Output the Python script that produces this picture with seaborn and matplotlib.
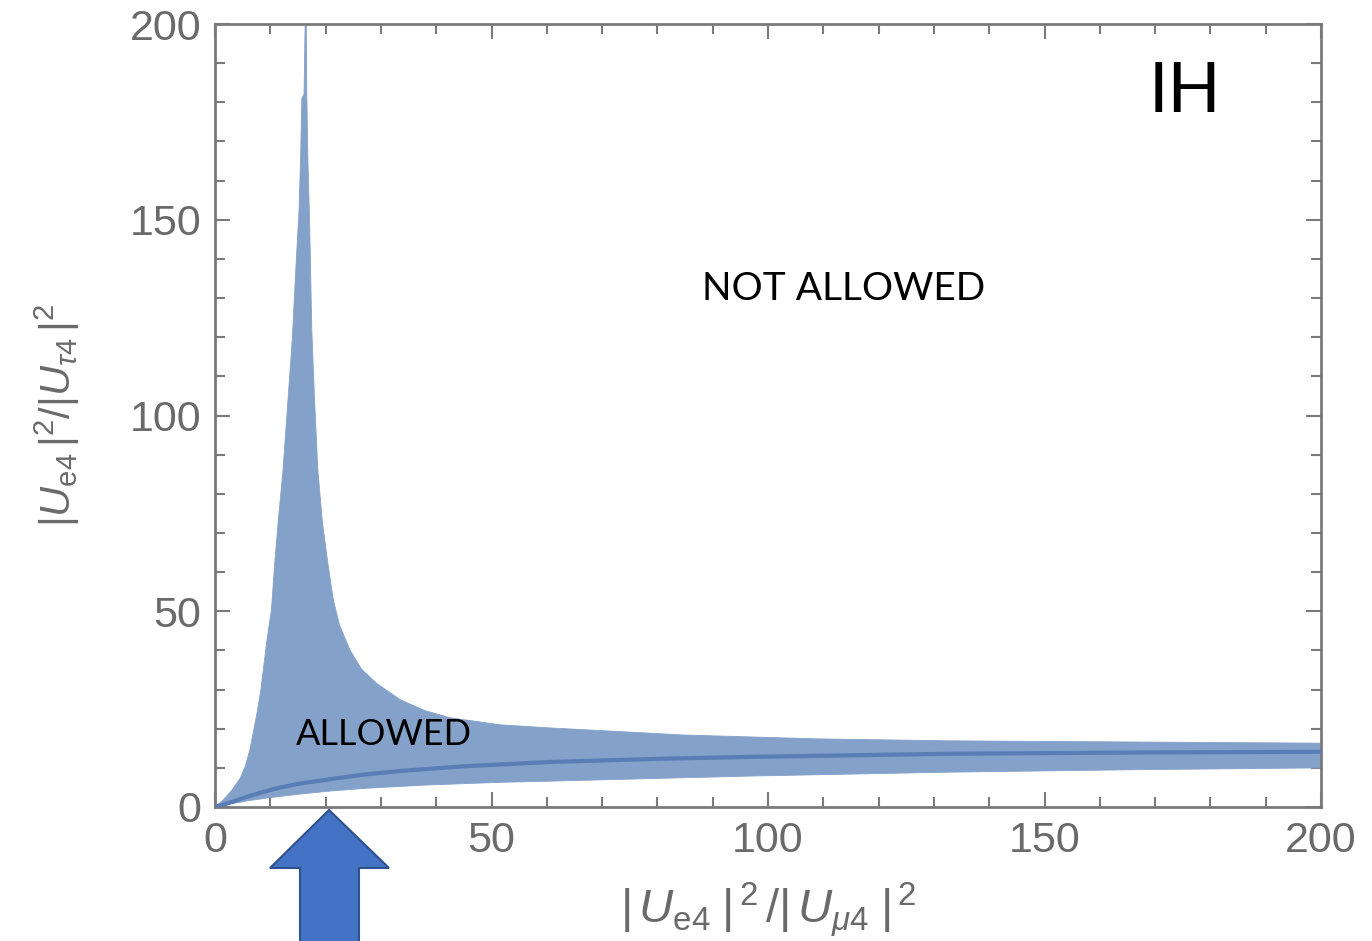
import matplotlib
matplotlib.use("Agg")
import matplotlib.pyplot as plt
from matplotlib.patches import Polygon
from matplotlib.ticker import MultipleLocator
import seaborn as sns
import pandas as pd

# Upper boundary of the allowed region (rising branch, spike, falling tail)
upper_x = [0.0, 1.5, 3.0, 4.5, 5.5, 6.3, 6.9, 7.6, 8.3, 8.9, 9.4, 9.8, 10.2,
           10.8, 11.5, 12.3, 13.2, 14.0, 14.6, 15.2, 15.5, 15.7, 16.1, 16.3,
           16.5, 16.6, 16.8, 17.1, 17.5, 18.0, 18.6, 19.4, 20.4, 21.4, 22.5,
           24.4, 26.5, 29.3, 33.5, 38.0, 42.5, 51.5, 60.6, 84.6, 108.9, 132.9, 200.0]
upper_y = [0.0, 1.8, 4.2, 7.2, 10.5, 14.6, 18.9, 24.0, 30.0, 37.0, 42.7, 46.5, 50.3,
           62.3, 74.0, 86.1, 104.0, 120.0, 137.0, 152.5, 167.0, 181.0, 182.0, 200.0,
           200.0, 182.0, 165.0, 150.0, 122.0, 104.0, 86.1, 73.0, 62.3, 52.9, 46.5,
           40.1, 35.2, 31.5, 27.4, 24.6, 22.8, 21.0, 20.2, 18.4, 17.4, 16.9, 16.3]

# Lower boundary of the allowed region
lower_x = [0.0, 1.5, 3.3, 6.0, 9.4, 15.4, 21.0, 27.5, 38.0, 51.5, 60.6, 80.0,
           96.7, 132.9, 165.0, 200.0]
lower_y = [0.0, 0.4, 0.9, 1.6, 2.3, 3.3, 4.1, 4.8, 5.6, 6.3, 6.6, 7.3,
           7.9, 8.9, 9.5, 10.0]

# Central (best-fit) curve
center_x = [0.0, 1.5, 3.3, 5.5, 8.1, 11.5, 15.4, 21.3, 27.0, 33.5, 45.0, 60.6,
            80.0, 96.7, 132.9, 165.0, 200.0]
center_y = [0.0, 0.6, 1.4, 2.5, 3.6, 4.9, 6.0, 7.2, 8.3, 9.2, 10.4, 11.5,
            12.3, 12.8, 13.6, 13.9, 14.1]

x_ticks = [0, 50, 100, 150, 200]
y_ticks = [0, 50, 100, 150, 200]

sns.set_theme(style="ticks")
plt.rcParams["font.family"] = ["Liberation Sans", "DejaVu Sans"]
plt.rcParams["mathtext.fontset"] = "custom"
plt.rcParams["mathtext.rm"] = "Liberation Sans"
plt.rcParams["mathtext.it"] = "Liberation Sans:italic"

GRAY = "#6a6a6a"
FRAME = "#7a7a7a"
FILL = "#84a1ca"
LINE = "#5b7db6"

fig = plt.figure(figsize=(13.72, 9.41), dpi=100)
ax = fig.add_axes([215 / 1372, 1 - 807 / 941, (1321 - 215) / 1372, (807 - 24) / 941])

# Allowed band: upper boundary forward, lower boundary back
poly_x = upper_x + lower_x[::-1]
poly_y = upper_y + lower_y[::-1]
ax.fill(poly_x, poly_y, color=FILL, lw=0.6, ec=FILL, zorder=2)

df = pd.DataFrame({"x": center_x, "y": center_y})
sns.lineplot(data=df, x="x", y="y", ax=ax, color=LINE, lw=3, zorder=3)

ax.set_xlim(0, 200)
ax.set_ylim(0, 200)
ax.set_xticks(x_ticks)
ax.set_yticks(y_ticks)
ax.xaxis.set_minor_locator(MultipleLocator(10))
ax.yaxis.set_minor_locator(MultipleLocator(10))
ax.tick_params(which="both", direction="in", top=True, right=True,
               color=FRAME, width=1.5, labelcolor=GRAY, labelsize=31)
ax.tick_params(which="major", length=11, pad=10)
ax.tick_params(which="minor", length=7)
for s in ax.spines.values():
    s.set_color(FRAME)
    s.set_linewidth(2)

ax.set_xlabel(r"$|\,U_{\mathrm{e4}}\;|^{\,2}\,/|\,U_{\mu4}\;|^{\,2}$", color=GRAY,
              fontsize=34, labelpad=14)
ax.set_ylabel(r"$|U_{\mathrm{e4}}\,|^{2}/|U_{\tau4}\,|^{2}$", color=GRAY,
              fontsize=30, labelpad=34)

ax.text(175.4, 182.6, "IH", fontsize=50, color="black", ha="center", va="center",
        family="Lato")
ax.text(113.6, 132.3, "NOT ALLOWED", fontsize=28, color="black", ha="center",
        va="center", family="Lato")
ax.text(30.6, 18.6, "ALLOWED", fontsize=26, color="black", ha="center",
        va="center", family="Lato", zorder=4)

# Block arrow pointing at the spike
arrow_px = [(329, 810), (389, 868), (359, 868), (359, 950), (300, 950),
            (300, 868), (270, 868)]
arrow = Polygon([(px / 1372, 1 - py / 941) for px, py in arrow_px],
                closed=True, transform=fig.transFigure, fc="#4472c4",
                ec="#2f528f", lw=1.5, clip_on=False)
fig.patches.append(arrow)

fig.savefig("out.png", dpi=100)
